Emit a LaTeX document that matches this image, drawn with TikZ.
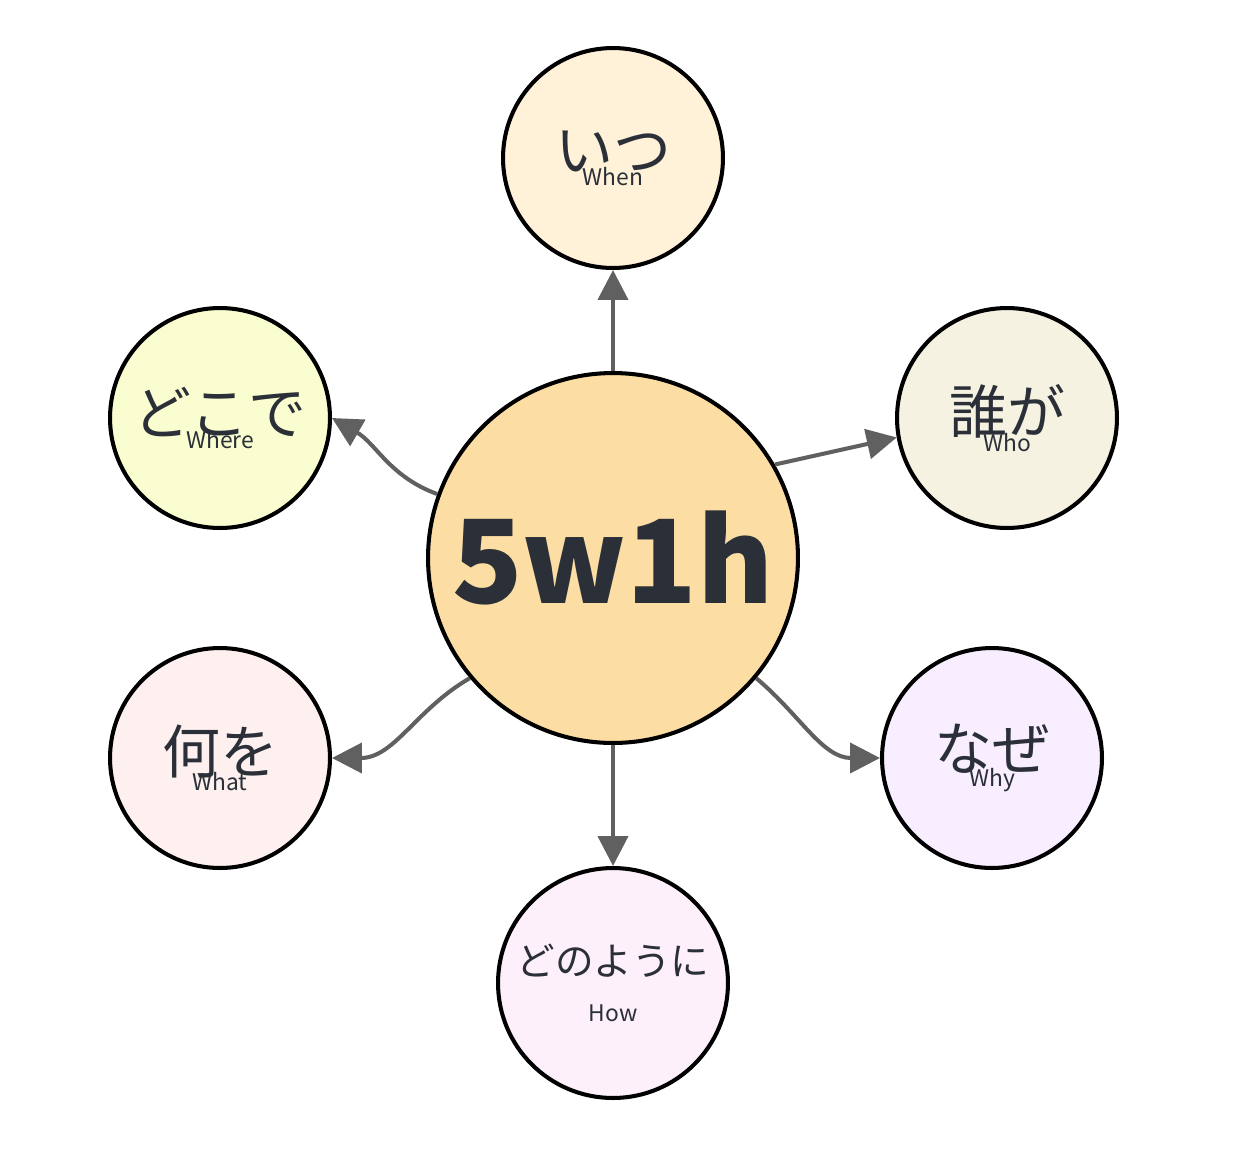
\documentclass[tikz,border=0pt]{standalone}
\usepackage{fontspec}
\setmainfont{Noto Sans CJK JP}
\usetikzlibrary{arrows.meta}
\definecolor{linegray}{HTML}{606060}
\definecolor{txt}{HTML}{2A2F38}
\definecolor{corefill}{HTML}{FCDDA4}
\definecolor{whenfill}{HTML}{FFF2D9}
\definecolor{whofill}{HTML}{F5F2E1}
\definecolor{whyfill}{HTML}{F8EEFF}
\definecolor{howfill}{HTML}{FDF0FB}
\definecolor{whatfill}{HTML}{FDF0EE}
\definecolor{wherefill}{HTML}{FAFDD0}
\tikzset{bubble/.style={circle,draw=black,line width=2.3pt,inner sep=0pt,align=center,text=txt},
  link/.style={-{Triangle[length=17pt,width=17pt]},line width=2.3pt,draw=linegray}}
\newcommand{\jp}[2]{{\fontsize{33}{36}\selectfont #1}\\[-4pt]{\fontsize{13}{15}\selectfont #2}}
\begin{document}
\begin{tikzpicture}[x=0.02cm,y=-0.02cm]
\useasboundingbox (0,0) rectangle (1234,1164);
\node[bubble,fill=corefill,minimum size=7.4cm] (core) at (613,558) {{\fontsize{66}{70}\selectfont\bfseries 5w1h}};
% satellites
\node[bubble,fill=whenfill,minimum size=4.4cm] (when) at (613,158) {\jp{いつ}{When}};
\node[bubble,fill=whofill,minimum size=4.4cm] (who) at (1007,418) {\jp{誰が}{Who}};
\node[bubble,fill=whyfill,minimum size=4.4cm] (why) at (992,758) {\jp{なぜ}{Why}};
\node[bubble,fill=howfill,minimum size=4.6cm] (how) at (613,983) {{\fontsize{22}{26}\selectfont どのように}\\[14pt]{\fontsize{13}{15}\selectfont How}};
\node[bubble,fill=whatfill,minimum size=4.4cm] (what) at (220,758) {\jp{何を}{What}};
\node[bubble,fill=wherefill,minimum size=4.4cm] (where) at (220,418) {\jp{どこで}{Where}};
% connectors
\draw[link] (core) -- (when);
\draw[link] (core) -- (how);
\draw[link] (core.30) -- (who.190);
\draw[link] (core.-40) to[out=-40,in=180] (why.west);
\draw[link] (core.-140) to[out=-150,in=0] (what.east);
\draw[link] (core.160) to[out=160,in=-30] (where.0);
\end{tikzpicture}
\end{document}
